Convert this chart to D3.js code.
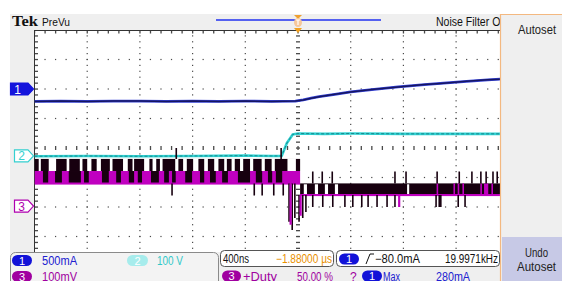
<!DOCTYPE html>
<html>
<head>
<meta charset="utf-8">
<script src="https://cdn.jsdelivr.net/npm/d3@7"></script>
<style>
  html, body { margin: 0; padding: 0; background: #fff; }
  svg { display: block; }
  text { font-family: "Liberation Sans", "DejaVu Sans", sans-serif; }
</style>
</head>
<body>
<svg id="scope" width="562" height="281"></svg>
<script>
// ---- data (time in divisions, level in divisions; 400ns/div) ----
const ch1T = [-5, -4.5, -4, -3.5, -3, -2.5, -2, -1.5, -1, -0.5, -0.05, 0.1, 0.25, 0.4, 0.7, 1.0, 1.4, 1.9, 2.4, 2.7, 3.2, 3.6, 4.0, 5];
const ch1V = [1.58, 1.59, 1.58, 1.59, 1.59, 1.58, 1.59, 1.58, 1.59, 1.58, 1.59, 1.63, 1.69, 1.74, 1.82, 1.9, 1.98, 2.07, 2.15, 2.19, 2.26, 2.31, 2.35, 2.46];

const ch2T = [-5, -4, -3, -2, -1, -0.5, -0.31, -0.21, -0.1, 0, 0.5, 1, 2, 3, 4, 5];
const ch2V = [-0.28, -0.27, -0.28, -0.27, -0.26, -0.27, -0.27, 0.17, 0.46, 0.49, 0.48, 0.49, 0.48, 0.48, 0.48, 0.48];

// ch3 pre-trigger band: [top, middle, bottom] levels and extent
const ch3PreLevels = [-0.37, -0.78, -1.2];
const ch3PreSpan = [-5, 0.04];
// white gaps in the upper half of the pre-trigger band
const ch3PreGaps = [[-4.92, -4.88], [-4.73, -4.59], [-4.39, -4.34], [-4.14, -4.09], [-4.0, -3.92], [-3.82, -3.74],
  [-3.57, -3.52], [-3.32, -3.23], [-3.14, -3.11], [-2.92, -2.82], [-2.76, -2.69], [-2.62, -2.57], [-2.33, -2.27],
  [-2.18, -2.11], [-1.99, -1.89], [-1.78, -1.71], [-1.59, -1.51], [-1.4, -1.35], [-1.26, -1.2], [-1.1, -1.04],
  [-0.91, -0.85], [-0.69, -0.63], [-0.5, -0.44], [-0.2, -0.04]];
// black blocks in the (magenta) lower half of the pre-trigger band
const ch3PreBlack = [[-4.84, -4.74], [-4.61, -4.48], [-4.35, -4.12], [-4.06, -3.97], [-3.72, -3.59], [-3.45, -3.36],
  [-3.21, -3.11], [-3.04, -2.96], [-2.79, -2.64], [-2.54, -2.45], [-2.39, -2.32], [-2.14, -2.01], [-1.86, -1.78],
  [-1.67, -1.56], [-1.44, -1.33], [-1.14, -0.91], [-0.8, -0.68], [-0.57, -0.49], [-0.42, -0.3]];

// ch3 post-trigger band
const ch3PostLevels = [-1.2, -1.59];
const ch3PostSpan = [0.04, 5];
const ch3PostGaps = [[0.11, 0.17], [0.32, 0.38], [0.51, 0.57], [0.7, 0.76], [2.07, 2.11]];
const ch3PostMagenta = [[2.63, 2.66], [2.95, 2.98], [3.03, 3.06], [3.12, 3.15], [3.46, 3.49], [3.53, 3.61], [3.67, 3.7]];

// ch3 glitches: [time, from level, to level]
const ch3Spikes = [
  [-2.31, -0.37, 0.0], [-0.32, -0.37, 0.0],
  [-2.39, -1.2, -1.61], [-0.83, -1.2, -1.61], [-0.68, -1.2, -1.61], [-0.46, -1.2, -1.61], [-0.28, -1.2, -1.61],
  [-0.17, -1.2, -2.5], [-0.11, -1.2, -2.78], [-0.06, -1.2, -2.37], [0.02, -1.59, -2.5], [0.09, -1.59, -2.37], [0.15, -1.59, -2.17],
  [0.28, -1.2, -0.8], [0.46, -1.2, -0.8], [0.65, -1.2, -0.8], [1.84, -1.2, -0.8], [2.05, -1.2, -0.8], [2.64, -1.2, -0.8],
  [3.06, -1.2, -0.8], [3.3, -1.2, -0.8], [3.47, -1.2, -0.8], [3.57, -1.2, -0.8], [3.7, -1.2, -0.8], [3.78, -1.2, -0.8],
  [0.28, -1.59, -2.0], [0.47, -1.59, -2.0], [0.66, -1.59, -2.0], [0.89, -1.59, -2.0], [1.04, -1.59, -2.0], [1.21, -1.59, -2.0],
  [1.33, -1.59, -2.0], [1.5, -1.59, -2.0], [1.69, -1.59, -2.0], [1.84, -1.59, -2.0], [2.62, -1.59, -2.0], [2.68, -1.59, -2.0],
  [2.71, -1.59, -2.0], [3.04, -1.59, -2.0], [3.17, -1.59, -2.0]];
const ch3MagentaSpikes = [[1.92, -1.59, -2.0], [-0.14, -1.2, -2.6], [0.05, -1.59, -2.3]];

const markerLevels = [2.0, -0.27, -1.97];
const markerLabels = ["1", "2", "3"];

// ---- scales ----
const x = d3.scaleLinear().domain([-5, 5]).range([34.5, 561.5]);
const y = d3.scaleLinear().domain([4, -4]).range([30, 266]);

const svg = d3.select("#scope");
const PLOT_R = 500, PLOT_B = 252;

// text helper: width-fitted so the scope's narrow font is matched
const txt = (g, tx, ty, str, opt) => {
  const o = Object.assign({ size: 12, fill: "#111", anchor: "start" }, opt);
  const t = g.append("text").attr("x", tx).attr("y", ty).attr("font-size", o.size)
    .attr("fill", o.fill).attr("text-anchor", o.anchor).text(str);
  if (o.w) t.attr("textLength", o.w).attr("lengthAdjust", "spacingAndGlyphs");
  if (o.family) t.style("font-family", o.family);
  if (o.bold) t.attr("font-weight", "bold");
  return t;
};

// background frames
svg.append("rect").attr("x", 10).attr("y", 14).attr("width", 490).attr("height", 267).attr("fill", "#efefef");
svg.append("rect").attr("x", 34.5).attr("y", 30).attr("width", PLOT_R - 34.5).attr("height", PLOT_B - 30).attr("fill", "#fff");

svg.append("defs").append("clipPath").attr("id", "plotclip")
  .append("rect").attr("x", 34.5).attr("y", 30).attr("width", PLOT_R - 34.5).attr("height", PLOT_B - 30);

const grid = svg.append("g").attr("clip-path", "url(#plotclip)").attr("fill", "#4a4a4a");
const minorX = d3.range(-5, 5.001, 0.2);
const minorY = d3.range(-4, 4.001, 0.2);

// dotted major grid
d3.range(-4, 5).filter(d => d !== 0).forEach(t => {
  grid.selectAll(null).data(minorY).enter().append("rect")
    .attr("x", x(t) - 0.6).attr("y", d => y(d) - 0.6).attr("width", 1.2).attr("height", 1.2);
});
d3.range(-3, 4).filter(d => d !== 0).forEach(v => {
  grid.selectAll(null).data(minorX).enter().append("rect")
    .attr("x", d => x(d) - 0.6).attr("y", y(v) - 0.6).attr("width", 1.2).attr("height", 1.2);
});
// centre cross with ticks
grid.selectAll(null).data(minorY).enter().append("rect")
  .attr("x", x(0) - 2).attr("y", d => y(d) - 0.6).attr("width", 4).attr("height", 1.3);
grid.selectAll(null).data(minorX).enter().append("rect")
  .attr("x", d => x(d) - 0.6).attr("y", y(0) - 2).attr("width", 1.3).attr("height", 4);
// frame ticks
grid.selectAll(null).data(minorX).enter().append("rect")
  .attr("x", d => x(d) - 0.6).attr("y", 30).attr("width", 1.3).attr("height", 3.5);
grid.selectAll(null).data(minorY).enter().append("rect")
  .attr("x", 34.5).attr("y", d => y(d) - 0.6).attr("width", 3.5).attr("height", 1.3);
svg.append("line").attr("x1", 34.5).attr("x2", PLOT_R).attr("y1", 30.5).attr("y2", 30.5).attr("stroke", "#333");
svg.append("line").attr("x1", 34.5).attr("x2", 34.5).attr("y1", 30).attr("y2", PLOT_B).attr("stroke", "#333");

const traces = svg.append("g").attr("clip-path", "url(#plotclip)");
const lineGen = d3.line().x(d => x(d[0])).y(d => y(d[1]));

// channel 1
const ch1 = ch1T.map((t, i) => [t, ch1V[i]]);
traces.append("path").attr("d", lineGen(ch1)).attr("fill", "none").attr("stroke", "#3542d8").attr("stroke-width", 2.8);
traces.append("path").attr("d", lineGen(ch1)).attr("fill", "none").attr("stroke", "#161660").attr("stroke-width", 1.5);

// channel 2
const ch2 = ch2T.map((t, i) => [t, ch2V[i]]);
traces.append("path").attr("d", lineGen(ch2)).attr("fill", "none").attr("stroke", "#2fd3d3").attr("stroke-width", 2.6);
traces.append("path").attr("d", lineGen(ch2)).attr("fill", "none").attr("stroke", "#177c80").attr("stroke-width", 0.9)
  .attr("stroke-dasharray", "3,2");

// channel 3
const BLACK = "#17000f", MAG = "#c000c0";
const band = (g, t0, t1, v0, v1, fill) => g.append("rect")
  .attr("x", x(t0)).attr("width", Math.max(0.8, x(t1) - x(t0)))
  .attr("y", y(v0)).attr("height", y(v1) - y(v0)).attr("fill", fill);

const c3 = traces.append("g");
band(c3, ch3PreSpan[0], ch3PreSpan[1], ch3PreLevels[0], ch3PreLevels[1], BLACK);
ch3PreGaps.forEach(g => band(c3, g[0], g[1], ch3PreLevels[0] + 0.02, ch3PreLevels[1], "#fff"));
band(c3, ch3PreSpan[0], ch3PreSpan[1], ch3PreLevels[1], ch3PreLevels[2], MAG);
ch3PreBlack.forEach(g => band(c3, g[0], g[1], ch3PreLevels[1], ch3PreLevels[2], BLACK));
band(c3, ch3PreSpan[0], ch3PreSpan[1], ch3PreLevels[2] + 0.03, ch3PreLevels[2] - 0.04, MAG);

band(c3, ch3PostSpan[0], ch3PostSpan[1], ch3PostLevels[0], ch3PostLevels[1], BLACK);
ch3PostGaps.forEach(g => band(c3, g[0], g[1], ch3PostLevels[0] - 0.03, ch3PostLevels[1], "#fff"));
ch3PostMagenta.forEach(g => band(c3, g[0], g[1], ch3PostLevels[0], ch3PostLevels[1], MAG));
band(c3, ch3PostSpan[0], ch3PostSpan[1], ch3PostLevels[1] + 0.03, ch3PostLevels[1] - 0.04, MAG);

c3.selectAll(null).data(ch3Spikes).enter().append("line")
  .attr("x1", d => x(d[0])).attr("x2", d => x(d[0]))
  .attr("y1", d => y(d[1])).attr("y2", d => y(d[2]))
  .attr("stroke", BLACK).attr("stroke-width", 1.6);
c3.selectAll(null).data(ch3MagentaSpikes).enter().append("line")
  .attr("x1", d => x(d[0])).attr("x2", d => x(d[0]))
  .attr("y1", d => y(d[1])).attr("y2", d => y(d[2]))
  .attr("stroke", MAG).attr("stroke-width", 2.2);

// channel markers on the left
const mk = svg.append("g");
const mkStyle = [
  { fill: "#1414dc", stroke: "#1414dc", text: "#fff" },
  { fill: "#fff", stroke: "#34d0d0", text: "#34d0d0" },
  { fill: "#fff", stroke: "#b000b0", text: "#b000b0" }
];
markerLevels.forEach((v, i) => {
  const yy = y(v), s = mkStyle[i], x0 = i === 0 ? 10.5 : 14.5;
  mk.append("path")
    .attr("d", `M${x0},${yy - 6}H28L33.5,${yy}L28,${yy + 6}H${x0}Z`)
    .attr("fill", s.fill).attr("stroke", s.stroke).attr("stroke-width", 1.2);
  txt(mk, x0 + 7, yy + 4.5, markerLabels[i], { fill: s.text, anchor: "middle" });
});

// top status bar
txt(svg, 12, 25.5, "Tek", { size: 15, bold: true, w: 26, family: "'Liberation Serif', 'DejaVu Serif', serif" });
txt(svg, 42, 25.5, "PreVu", { size: 11.5, w: 28 });
svg.append("line").attr("x1", 216).attr("x2", 381).attr("y1", 20).attr("y2", 20).attr("stroke", "#2030f0").attr("stroke-width", 1.6);
const trig = svg.append("g").attr("transform", `translate(${x(0)},0)`);
trig.append("path").attr("d", "M-4,15H4L0,19Z").attr("fill", "#f0a030");
trig.append("ellipse").attr("cx", 0).attr("cy", 22.5).attr("rx", 4).attr("ry", 4.5).attr("fill", "#f6c79a");
trig.append("path").attr("d", "M-2,20H2M0,20V25").attr("stroke", "#fff").attr("stroke-width", 1.2);
trig.append("path").attr("d", "M-4,28H4L0,33Z").attr("fill", "#f0a020");
txt(svg, 436, 25.5, "Noise Filter Off", { size: 12, w: 70 });

// right side menu
svg.append("rect").attr("x", 500).attr("y", 14).attr("width", 62).attr("height", 267).attr("fill", "#efefef");
svg.append("path").attr("d", "M500.5,281V14.5H562").attr("fill", "none").attr("stroke", "#f3b880").attr("stroke-width", 1.2);
txt(svg, 518, 34, "Autoset", { size: 12.5, w: 38, fill: "#222" });
svg.append("rect").attr("x", 502).attr("y", 237).attr("width", 60).attr("height", 44).attr("fill", "#c7c9e6");
txt(svg, 525, 256.5, "Undo", { size: 12.5, w: 23, fill: "#222" });
txt(svg, 517, 270.5, "Autoset", { size: 12.5, w: 39, fill: "#222" });

// bottom readouts
const bot = svg.append("g");
bot.append("rect").attr("x", 10.5).attr("y", 252.5).attr("width", 208).attr("height", 40).attr("rx", 5)
  .attr("fill", "#f3f3f3").attr("stroke", "#8a8a8a");
const badge = (bx, by, w, fill, label) => {
  bot.append("rect").attr("x", bx).attr("y", by).attr("width", w).attr("height", 11).attr("rx", 5.5).attr("fill", fill);
  txt(bot, bx + w / 2, by + 9.5, label, { size: 11, fill: "#fff", anchor: "middle" });
};

badge(12, 255, 20, "#1212d8", "1");
txt(bot, 42, 264.5, "500mA", { w: 35, fill: "#2020d0" });
badge(127, 255, 21, "#a6ecec", "2");
txt(bot, 157, 264.5, "100 V", { w: 26, fill: "#30c8c8" });
badge(12, 271, 20, "#a000a0", "3");
txt(bot, 42, 280.5, "100mV", { w: 35, fill: "#a000a0" });

bot.append("rect").attr("x", 220.5).attr("y", 250.5).attr("width", 113).attr("height", 16).attr("rx", 4)
  .attr("fill", "#fff").attr("stroke", "#555");
txt(bot, 223, 262.5, "400ns", { w: 26 });
txt(bot, 276, 262.5, "\u22121.88000 \u00b5s", { w: 56, fill: "#e89000" });

bot.append("rect").attr("x", 336.5).attr("y", 250.5).attr("width", 163).attr("height", 16).attr("rx", 4)
  .attr("fill", "#fff").attr("stroke", "#555");
badge(339, 253.5, 20, "#1212d8", "1");
bot.append("path").attr("d", "M366,264L370,254H374").attr("fill", "none").attr("stroke", "#111").attr("stroke-width", 1);
txt(bot, 375, 262.5, "\u221280.0mA", { w: 45 });
txt(bot, 445, 262.5, "19.9971kHz", { w: 53 });

badge(222, 270.5, 19, "#a000a0", "3");
txt(bot, 243, 280.5, "+Duty", { w: 34, fill: "#a000a0" });
txt(bot, 297, 280.5, "50.00 %", { w: 36, fill: "#a000a0" });
txt(bot, 350, 280.5, "?", { fill: "#a000a0" });
badge(362, 270.5, 20, "#1212d8", "1");
txt(bot, 383, 280.5, "Max", { w: 17, fill: "#2020d0" });
txt(bot, 436, 280.5, "280mA", { w: 34, fill: "#2020d0" });
</script>
</body>
</html>
